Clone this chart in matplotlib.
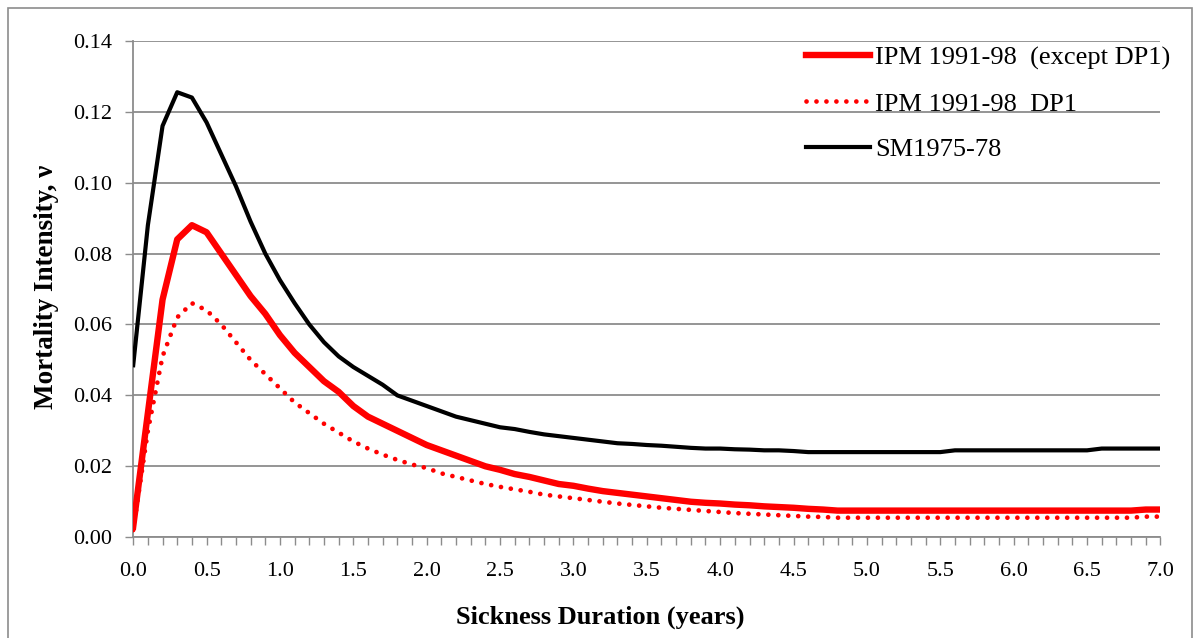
import numpy as np
import matplotlib
matplotlib.use("Agg")
import matplotlib.pyplot as plt
from matplotlib.ticker import MultipleLocator, FormatStrFormatter
from matplotlib.patches import Rectangle

duration = [round(0.1 * i, 1) for i in range(71)]

ipm_except_dp1 = [
    0.003, 0.035, 0.067, 0.084, 0.088, 0.086, 0.080, 0.074, 0.068, 0.063,
    0.057, 0.052, 0.048, 0.044, 0.041, 0.037, 0.034, 0.032, 0.030, 0.028,
    0.026, 0.0245, 0.023, 0.0215, 0.020, 0.019, 0.0178, 0.017, 0.016, 0.015,
    0.0145, 0.0137, 0.013, 0.0125, 0.012, 0.0115, 0.011, 0.0105, 0.010, 0.0097,
    0.0095, 0.0092, 0.009, 0.0087, 0.0085, 0.0083, 0.008, 0.0078, 0.0075, 0.0075,
    0.0075, 0.0075, 0.0075, 0.0075, 0.0075, 0.0075, 0.0075, 0.0075, 0.0075, 0.0075,
    0.0075, 0.0075, 0.0075, 0.0075, 0.0075, 0.0075, 0.0075, 0.0075, 0.0075, 0.0078,
    0.0078,
]

ipm_dp1 = [
    0.002, 0.030, 0.051, 0.062, 0.066, 0.064, 0.060, 0.055, 0.050, 0.046,
    0.042, 0.038, 0.035, 0.032, 0.0295, 0.027, 0.025, 0.0233, 0.0218, 0.0205,
    0.0195, 0.018, 0.017, 0.016, 0.015, 0.0142, 0.0135, 0.0128, 0.012, 0.0115,
    0.011, 0.0105, 0.010, 0.0095, 0.0091, 0.0087, 0.0083, 0.008, 0.0077, 0.0074,
    0.0071, 0.0068, 0.0066, 0.0064, 0.0062, 0.006, 0.0058, 0.0057, 0.0055, 0.0055,
    0.0055, 0.0055, 0.0055, 0.0055, 0.0055, 0.0055, 0.0055, 0.0055, 0.0055, 0.0055,
    0.0055, 0.0055, 0.0055, 0.0055, 0.0055, 0.0055, 0.0055, 0.0055, 0.0055, 0.0058,
    0.0058,
]

sm_1975_78 = [
    0.0485, 0.088, 0.116, 0.1255, 0.124, 0.117, 0.108, 0.099, 0.089, 0.080,
    0.0725, 0.066, 0.060, 0.055, 0.051, 0.048, 0.0455, 0.043, 0.040, 0.0385,
    0.037, 0.0355, 0.034, 0.033, 0.032, 0.031, 0.0305, 0.0297, 0.029, 0.0285,
    0.028, 0.0275, 0.027, 0.0265, 0.0263, 0.026, 0.0258, 0.0255, 0.0252, 0.025,
    0.025, 0.0248, 0.0247, 0.0245, 0.0245, 0.0243, 0.024, 0.024, 0.024, 0.024,
    0.024, 0.024, 0.024, 0.024, 0.024, 0.024, 0.0245, 0.0245, 0.0245, 0.0245,
    0.0245, 0.0245, 0.0245, 0.0245, 0.0245, 0.0245, 0.025, 0.025, 0.025, 0.025,
    0.025,
]

labels = ["IPM 1991-98  (except DP1)", "IPM 1991-98  DP1", "SM1975-78"]

serif = ["Liberation Serif", "DejaVu Serif"]
plt.rcParams["font.family"] = serif

fig = plt.figure(figsize=(12, 6.38), dpi=100)
fig.patches.append(Rectangle((0.007, -0.02), 0.986, 1.007, transform=fig.transFigure,
                             fill=False, edgecolor="#8c8c8c", linewidth=1.2))
ax = fig.add_axes([0.111, 0.158, 0.856, 0.778])

ax.plot(duration, ipm_except_dp1, color="#ff0000", lw=4.6, solid_joinstyle="round",
        label=labels[0], zorder=3)
ax.plot(duration, ipm_dp1, color="#ff0000", lw=3.4, linestyle=(0, (0.01, 2.1)),
        dash_capstyle="round", label=labels[1], zorder=3)
ax.plot(duration, sm_1975_78, color="black", lw=3.0, solid_joinstyle="round",
        label=labels[2], zorder=3)

ax.set_xlim(0, 7)
ax.set_ylim(0, 0.14)
ax.xaxis.set_major_locator(MultipleLocator(0.5))
ax.xaxis.set_minor_locator(MultipleLocator(0.1))
ax.yaxis.set_major_locator(MultipleLocator(0.02))
ax.xaxis.set_major_formatter(FormatStrFormatter("%.1f"))
ax.yaxis.set_major_formatter(FormatStrFormatter("%.2f"))

ax.grid(axis="y", color="#8c8c8c", linewidth=1.3)
ax.set_axisbelow(True)
for s in ["top", "right"]:
    ax.spines[s].set_visible(False)
for s in ["left", "bottom"]:
    ax.spines[s].set_color("#8c8c8c")
    ax.spines[s].set_linewidth(1.3)

ax.tick_params(axis="x", which="both", direction="out", length=5.5, color="#8c8c8c",
               width=1.0, labelsize=16, pad=12.5)
ax.tick_params(axis="y", which="major", direction="out", length=5.5, color="#8c8c8c",
               width=1.0, labelsize=16, pad=10)

ax.set_xlabel("Sickness Duration (years)", fontsize=19, fontweight="bold")
ax.xaxis.set_label_coords(0.4547, -0.137)
ax.set_ylabel("Mortality Intensity, ν", fontsize=19.5, fontweight="bold")
ax.yaxis.set_label_coords(-0.072, 0.505)

leg = fig.legend(loc="upper left", bbox_to_anchor=(0.6717, 0.9275),
                 frameon=False, fontsize=19, handlelength=2.42, handletextpad=0.2,
                 labelspacing=0.83, borderaxespad=0, borderpad=0)

fig.savefig("out.png", dpi=100)
